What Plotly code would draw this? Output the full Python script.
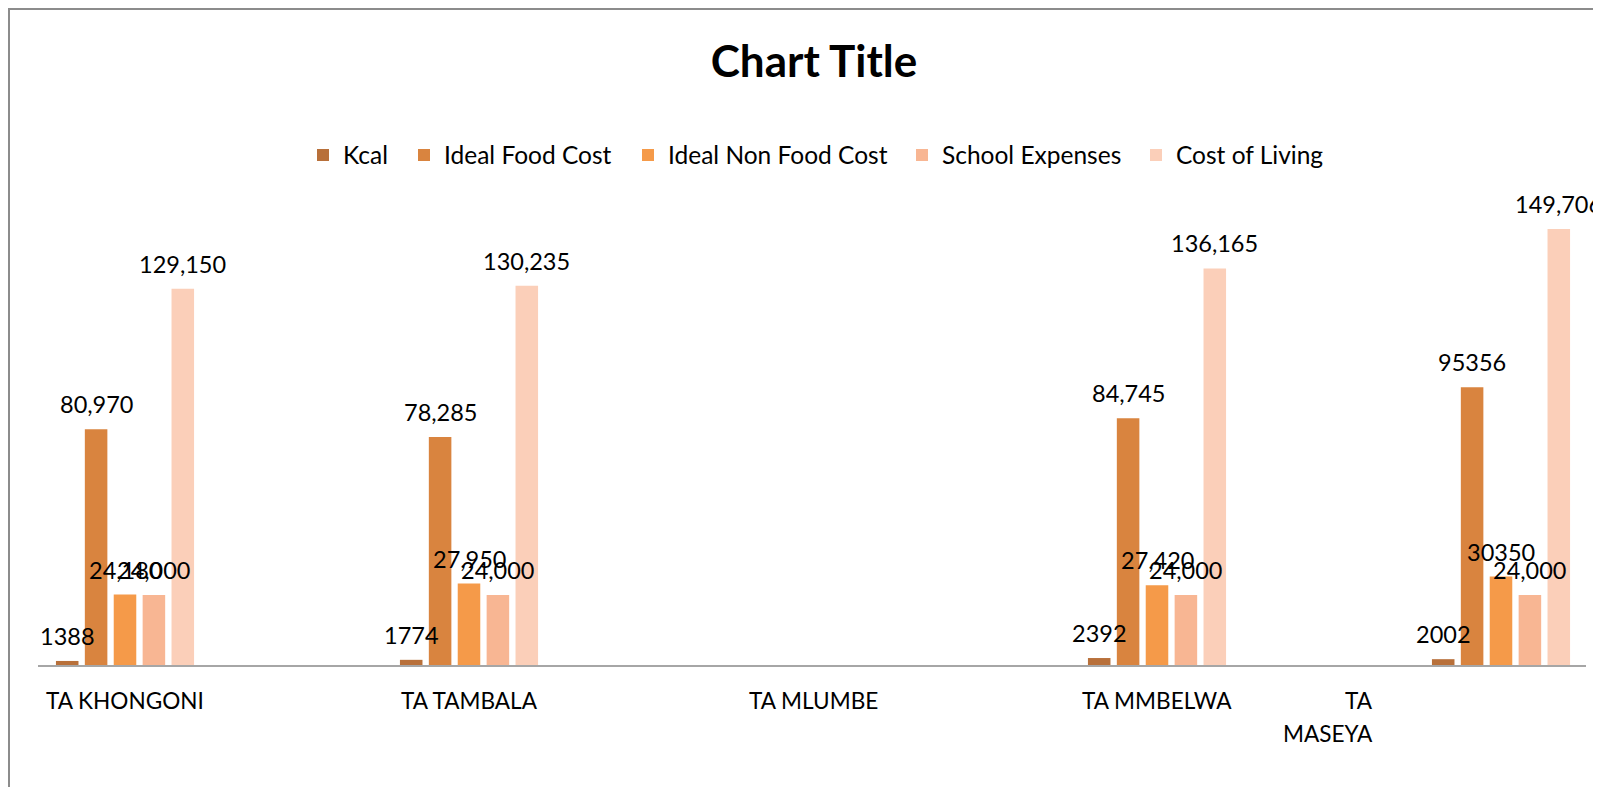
import plotly.graph_objects as go

categories = ["TA KHONGONI", "TA TAMBALA", "TA MLUMBE", "TA MMBELWA", "TA MASEYA"]
series_names = ["Kcal", "Ideal Food Cost", "Ideal Non Food Cost", "School Expenses", "Cost of Living"]
kcal = [1388, 1774, None, 2392, 2002]
ideal_food = [80970, 78285, None, 84745, 95356]
ideal_non_food = [24180, 27950, None, 27420, 30350]
school = [24000, 24000, None, 24000, 24000]
cost_of_living = [129150, 130235, None, 136165, 149706]
# whether each data label is shown with a thousands separator
comma_kcal = [False, False, False, False, False]
comma_food = [True, True, True, True, False]
comma_non_food = [True, True, True, True, False]
comma_school = [True, True, True, True, True]
comma_col = [True, True, True, True, True]

colors = ["#B8703A", "#D9843F", "#F59A49", "#F8B693", "#FBCFB9"]
FONT = "Lato"

values = [kcal, ideal_food, ideal_non_food, school, cost_of_living]
commas = [comma_kcal, comma_food, comma_non_food, comma_school, comma_col]

# page body has an 8px margin; figure is sized to fit the window
O = 8
W, H = 1601 - 2 * O, 795 - 2 * O
L = 38 - O
R = W - (1586 - O)
T = 199 - O
B = H - (665 - O)
pw = W - L - R
ph = H - T - B
CAT_PX = 344.0
BARGAP = 0.58
BARGROUPGAP = 0.22
n_series = len(series_names)
slot = CAT_PX * (1 - BARGAP) / n_series
c0 = 125 - O  # pixel centre of first category (figure coords)

def py(ref_y):
    return (H - B - (ref_y - O)) / ph

def pxx(ref_x):
    return ((ref_x - O) - L) / pw

# legend entry text starts (reference pixels)
legend_text_x = [341, 442, 666, 940, 1174]
legend_ids = ["legend", "legend2", "legend3", "legend4", "legend5"]

fig = go.Figure()
for name, vals, col, lid in zip(series_names, values, colors, legend_ids):
    fig.add_trace(go.Bar(
        name=name, x=categories, y=vals, marker_color=col, marker_line_width=0,
        hoverinfo="x+y+name", legend=lid,
    ))

annotations = []
# data labels, drawn above all bars
for i, (vals, cm) in enumerate(zip(values, commas)):
    for c, v, f in zip(categories, vals, cm):
        if v is None:
            continue
        annotations.append(dict(
            x=c, xref="x", y=v, yref="y", text=(f"{v:,}" if f else str(v)),
            showarrow=False, xanchor="center", yanchor="bottom",
            xshift=(i - (n_series - 1) / 2) * slot, yshift=9,
            font=dict(family=FONT, size=23.5, color="#000000")))

# category labels
for c in categories[:4]:
    annotations.append(dict(x=c, xref="x", y=py(700), yref="paper", text=c, showarrow=False,
                            xanchor="center", yanchor="middle",
                            font=dict(family=FONT, size=22.6, color="#000000")))
last = categories[4].split(" ")
annotations.append(dict(x=pxx(1375), xref="paper", y=py(700), yref="paper", text=last[0], showarrow=False,
                        xanchor="right", yanchor="middle", font=dict(family=FONT, size=22.6, color="#000000")))
annotations.append(dict(x=pxx(1375), xref="paper", y=py(733), yref="paper", text=last[1], showarrow=False,
                        xanchor="right", yanchor="middle", font=dict(family=FONT, size=22.6, color="#000000")))

legends = {}
for lid, tx in zip(legend_ids, legend_text_x):
    legends[lid] = dict(orientation="h", x=pxx(tx + 2 - 40), xanchor="left", xref="paper",
                        y=py(155), yanchor="middle",
                        font=dict(family=FONT, size=24.5, color="#000000"),
                        itemwidth=30, bgcolor="rgba(0,0,0,0)")

fig.update_layout(
    width=W, height=H,
    margin=dict(l=L, r=R, t=T, b=B, autoexpand=False),
    paper_bgcolor="white", plot_bgcolor="white",
    barmode="group", bargap=BARGAP, bargroupgap=BARGROUPGAP,
    title=dict(text="<b>Chart Title</b>", x=pxx(814), xref="paper", xanchor="center",
               y=1 - (62 - O) / H, yref="container", yanchor="middle",
               font=dict(family=FONT, size=44, color="#000000")),
    xaxis=dict(type="category", range=[-(c0 - L) / CAT_PX, (W - R - c0) / CAT_PX],
               showticklabels=False, showgrid=False, zeroline=False,
               showline=True, linecolor="#A6A6A6", linewidth=2, ticks=""),
    yaxis=dict(range=[0, 160000], showticklabels=False, showgrid=False, zeroline=False,
               showline=False),
    annotations=annotations,
    shapes=[dict(type="rect", xref="paper", yref="paper",
                 x0=pxx(O + 1), x1=pxx(1601 + 40), y0=py(800 + 40), y1=py(O + 1),
                 line=dict(color="#8C8C8C", width=2), fillcolor="rgba(0,0,0,0)", layer="below")],
    showlegend=True,
    **legends,
)

fig.write_html("out.html")
